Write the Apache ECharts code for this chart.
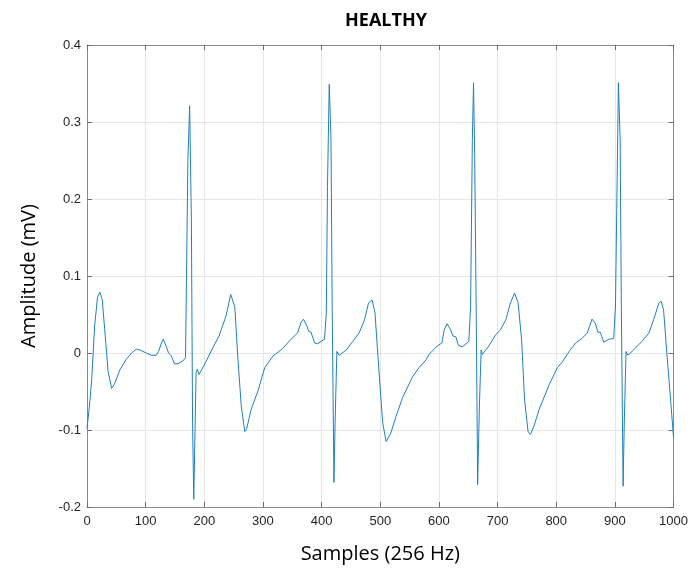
<!DOCTYPE html>
<html>
<head>
<meta charset="utf-8">
<title>HEALTHY</title>
<script src="https://cdn.jsdelivr.net/npm/echarts@6/dist/echarts.min.js"></script>
<style>
  html, body { margin: 0; padding: 0; background: #fff; }
  #chart { width: 691px; height: 569px; }
</style>
</head>
<body>
<div id="chart"></div>
<script>
// sample index (256 Hz)
var samples = [
  0, 4, 8, 13, 18, 22, 26, 30, 36, 42, 47, 56, 67, 76, 84, 90, 101, 110, 118, 122,
  127, 130, 135, 139, 143, 145, 149, 155, 164, 168, 172, 175, 178, 180, 182, 186, 188, 191, 203, 214,
  225, 237, 245, 248, 252, 257, 263, 269, 272, 280, 292, 303, 317, 334, 348, 359, 365, 369, 375, 378,
  382, 388, 393, 405, 408, 410, 413, 416, 418, 421, 423, 426, 430, 442, 453, 464, 473, 480, 486, 491,
  498, 504, 510, 518, 527, 538, 555, 566, 578, 583, 597, 605, 609, 614, 620, 624, 629, 633, 640, 651,
  654, 657, 659, 661, 664, 666, 669, 672, 674, 685, 697, 705, 714, 722, 729, 735, 741, 746, 752, 756,
  762, 771, 788, 802, 810, 822, 833, 844, 853, 857, 861, 867, 871, 875, 881, 890, 898, 901, 904, 906,
  909, 911, 914, 916, 919, 922, 932, 946, 958, 966, 975, 979, 983, 989, 995, 1000
]
// amplitude in mV at each sample above
var amplitude = [
  -0.098, -0.07, -0.035, 0.035, 0.073, 0.079, 0.069, 0.032, -0.024, -0.046, -0.04, -0.022, -0.008, 0.0, 0.005, 0.004, 0.0, -0.003, -0.003, 0.002,
  0.013, 0.018, 0.009, 0.0, -0.003, -0.006, -0.014, -0.014, -0.01, -0.006, 0.25, 0.321, 0.17, -0.09, -0.19, -0.025, -0.021, -0.028, -0.011, 0.006,
  0.022, 0.048, 0.076, 0.076, 0.06, -0.004, -0.069, -0.102, -0.099, -0.073, -0.048, -0.019, -0.004, 0.006, 0.018, 0.026, 0.04, 0.044, 0.035, 0.028,
  0.027, 0.013, 0.012, 0.018, 0.052, 0.216, 0.349, 0.277, 0.06, -0.168, -0.09, 0.002, -0.003, 0.004, 0.015, 0.026, 0.043, 0.065, 0.069, 0.052,
  -0.026, -0.09, -0.115, -0.104, -0.082, -0.058, -0.031, -0.019, -0.009, -0.002, 0.009, 0.013, 0.03, 0.038, 0.03, 0.022, 0.021, 0.01, 0.008, 0.015,
  0.06, 0.277, 0.351, 0.255, 0.017, -0.171, -0.069, 0.004, -0.002, 0.009, 0.024, 0.03, 0.043, 0.065, 0.078, 0.065, 0.017, -0.061, -0.102, -0.106,
  -0.095, -0.073, -0.041, -0.019, -0.012, 0.002, 0.013, 0.019, 0.026, 0.035, 0.044, 0.038, 0.027, 0.027, 0.014, 0.018, 0.019, 0.061, 0.233, 0.351,
  0.277, 0.06, -0.173, -0.091, 0.002, -0.003, 0.004, 0.015, 0.026, 0.043, 0.065, 0.067, 0.056, -0.004, -0.061, -0.11
]
var xTicks = [0, 100, 200, 300, 400, 500, 600, 700, 800, 900, 1000]
var yTicks = [-0.2, -0.1, 0, 0.1, 0.2, 0.3, 0.4]

var chart = echarts.init(document.getElementById('chart'))
var points = samples.map(function(s, i) {
  return [s, amplitude[i]]
})

var frameColor = '#8a8a8a'
var labelStyle = {
  color: '#262626',
  fontSize: 13,
  fontFamily: 'Liberation Sans'
}
var frameLine = { show: true, onZero: false, lineStyle: { color: frameColor, width: 1 } }
var frameTick = { show: true, inside: true, length: 5, lineStyle: { color: '#6e6e6e' } }

chart.setOption({
  animation: false,
  title: {
    text: 'HEALTHY',
    left: 381,
    top: 7,
    textAlign: 'center',
    textStyle: {
      fontFamily: 'Open Sans',
      fontWeight: 'bold',
      fontSize: 18,
      color: '#000'
    }
  },
  grid: {
    left: 87,
    right: 16,
    top: 45,
    bottom: 61
  },
  xAxis: [
    {
      type: 'value',
      min: xTicks[0],
      max: xTicks[xTicks.length - 1],
      interval: 100,
      name: 'Samples (256 Hz)',
      nameLocation: 'middle',
      nameGap: 37,
      nameTextStyle: { fontFamily: 'Open Sans', fontSize: 20, color: '#000' },
      axisLine: frameLine,
      axisTick: frameTick,
      axisLabel: Object.assign({
        margin: 8,
        formatter: function(v) {
          return String(v)
        }
      }, labelStyle),
      splitLine: { show: true, lineStyle: { color: '#e6e6e6', width: 1 } }
    },
    {
      type: 'value',
      position: 'top',
      min: xTicks[0],
      max: xTicks[xTicks.length - 1],
      interval: 100,
      axisLine: frameLine,
      axisTick: frameTick,
      axisLabel: { show: false },
      splitLine: { show: false }
    }
  ],
  yAxis: [
    {
      type: 'value',
      min: yTicks[0],
      max: yTicks[yTicks.length - 1],
      interval: 0.1,
      name: 'Amplitude (mV)',
      nameLocation: 'middle',
      nameGap: 48,
      nameTextStyle: { fontFamily: 'Open Sans', fontSize: 20, color: '#000' },
      axisLine: frameLine,
      axisTick: frameTick,
      axisLabel: Object.assign({
        margin: 6,
        formatter: function(v) {
          return String(+v.toFixed(1))
        }
      }, labelStyle),
      splitLine: { show: true, lineStyle: { color: '#e6e6e6', width: 1 } }
    },
    {
      type: 'value',
      position: 'right',
      min: yTicks[0],
      max: yTicks[yTicks.length - 1],
      interval: 0.1,
      axisLine: frameLine,
      axisTick: frameTick,
      axisLabel: { show: false },
      splitLine: { show: false }
    }
  ],
  series: [
    {
      name: 'ECG',
      type: 'line',
      data: points,
      showSymbol: false,
      smooth: false,
      lineStyle: { color: '#1f7fc4', width: 1 },
      itemStyle: { color: '#1f7fc4' }
    }
  ]
})
</script>
</body>
</html>
